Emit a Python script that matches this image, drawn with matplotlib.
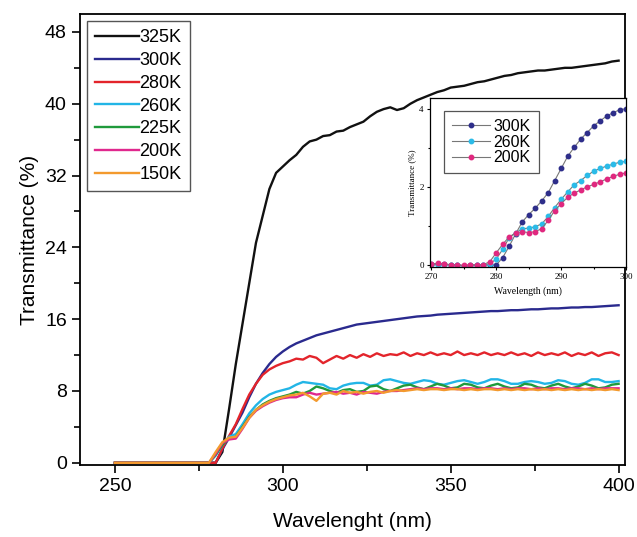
import numpy as np
import matplotlib

matplotlib.use("Agg")
import matplotlib.pyplot as plt

plt.rcParams["font.family"] = ["Liberation Sans", "DejaVu Sans"]

# main spectra, sampled every 2 nm from 250 to 400 nm
wavelength = np.arange(250, 401, 2)
flat_250_278 = [0.0, 0.0, 0.0, 0.0, 0.0, 0.0, 0.0, 0.0, 0.0, 0.0, 0.0, 0.0, 0.0, 0.0, 0.0]

# values from 280 to 400 nm
t_325 = [0.0, 1.2, 6.0, 11.0, 15.5, 20.0, 24.5, 27.5, 30.5, 32.3, 33.0,
         33.7, 34.3, 35.2, 35.8, 36.0, 36.4, 36.5, 36.9, 37.0, 37.4,
         37.7, 38.0, 38.6, 39.1, 39.4, 39.6, 39.3, 39.5, 40.0, 40.4,
         40.7, 41.0, 41.3, 41.5, 41.8, 41.9, 42.0, 42.2, 42.4, 42.5,
         42.7, 42.9, 43.1, 43.2, 43.4, 43.5, 43.6, 43.7, 43.7, 43.8,
         43.9, 44.0, 44.0, 44.1, 44.2, 44.3, 44.4, 44.5, 44.7, 44.8]
t_300 = [0.0, 1.5, 2.8, 4.2, 5.6, 7.3, 8.8, 10.0, 11.0, 11.8, 12.4,
         12.9, 13.3, 13.6, 13.9, 14.2, 14.4, 14.6, 14.8, 15.0, 15.2,
         15.4, 15.5, 15.6, 15.7, 15.8, 15.9, 16.0, 16.1, 16.2, 16.3,
         16.35, 16.4, 16.5, 16.55, 16.6, 16.65, 16.7, 16.75, 16.8, 16.85,
         16.9, 16.9, 16.95, 17.0, 17.0, 17.05, 17.1, 17.1, 17.15, 17.2,
         17.2, 17.25, 17.3, 17.3, 17.35, 17.35, 17.4, 17.45, 17.5, 17.55]
t_280 = [0.0, 1.6, 3.0, 4.3, 6.0, 7.6, 8.8, 9.8, 10.4, 10.8, 11.1,
         11.3, 11.6, 11.5, 11.9, 11.7, 11.1, 11.5, 11.9, 11.6, 12.0,
         11.7, 12.1, 11.8, 12.2, 11.9, 12.1, 12.0, 12.3, 11.9, 12.2,
         12.0, 12.3, 12.0, 12.2, 12.0, 12.4, 12.0, 12.2, 12.0, 12.3,
         12.0, 12.2, 12.0, 12.3, 12.0, 12.2, 11.9, 12.3, 12.0, 12.2,
         12.0, 12.3, 11.9, 12.2, 12.0, 12.3, 11.9, 12.2, 12.3, 12.0]
t_260 = [0.8, 2.0, 2.9, 3.2, 4.3, 5.5, 6.4, 7.1, 7.6, 7.9, 8.1,
         8.3, 8.7, 9.0, 8.9, 8.8, 8.7, 8.3, 8.2, 8.6, 8.8,
         8.9, 8.9, 8.6, 8.7, 9.2, 9.3, 9.1, 8.9, 8.8, 9.0,
         9.2, 9.1, 8.8, 8.7, 8.9, 9.1, 9.2, 9.0, 8.8, 9.0,
         9.3, 9.3, 9.1, 8.8, 8.8, 9.0, 9.1, 9.0, 8.8, 8.9,
         9.2, 9.1, 8.8, 8.7, 8.9, 9.3, 9.3, 9.0, 9.0, 9.1]
t_225 = [0.9, 2.0, 2.7, 2.9, 4.0, 5.1, 5.9, 6.5, 6.9, 7.2, 7.4,
         7.6, 7.9, 7.7, 8.0, 8.5, 8.3, 8.0, 7.8, 8.1, 8.2,
         7.9, 8.0, 8.5, 8.6, 8.2, 8.0, 8.3, 8.6, 8.7, 8.4,
         8.2, 8.5, 8.8, 8.6, 8.3, 8.4, 8.8, 8.7, 8.4, 8.3,
         8.6, 8.8, 8.5, 8.3, 8.4, 8.8, 8.7, 8.4, 8.3, 8.6,
         8.8, 8.5, 8.3, 8.5, 8.8, 8.6, 8.3, 8.4, 8.7, 8.8]
t_200 = [1.0, 2.2, 2.6, 2.7, 3.8, 5.0, 5.8, 6.3, 6.7, 7.0, 7.2,
         7.3, 7.3, 7.6, 7.8, 7.6, 7.7, 7.8, 7.9, 7.7, 7.8,
         7.6, 7.9, 7.8, 7.7, 7.9, 8.0, 8.0, 8.1, 8.2, 8.3,
         8.2, 8.3, 8.3, 8.2, 8.3, 8.2, 8.3, 8.3, 8.2, 8.3,
         8.3, 8.2, 8.3, 8.2, 8.3, 8.3, 8.2, 8.3, 8.2, 8.3,
         8.3, 8.2, 8.3, 8.3, 8.2, 8.3, 8.2, 8.3, 8.3, 8.3]
t_150 = [1.2, 2.3, 2.8, 2.9, 3.9, 5.0, 5.9, 6.4, 6.8, 7.1, 7.3,
         7.5, 7.6, 7.8, 7.4, 6.9, 7.7, 7.8, 7.6, 8.0, 7.8,
         7.9, 7.7, 7.9, 8.0, 7.8, 8.0, 8.1, 8.0, 8.1, 8.2,
         8.1, 8.2, 8.2, 8.1, 8.2, 8.2, 8.1, 8.2, 8.1, 8.2,
         8.2, 8.1, 8.2, 8.1, 8.2, 8.1, 8.2, 8.1, 8.2, 8.1,
         8.2, 8.1, 8.2, 8.1, 8.2, 8.1, 8.2, 8.1, 8.2, 8.1]

labels = ["325K", "300K", "280K", "260K", "225K", "200K", "150K"]
colors = ["#111111", "#2a2a8e", "#e3242b", "#22b5e6", "#1f9a3c", "#e0288e", "#f39a2e"]
series = [t_325, t_300, t_280, t_260, t_225, t_200, t_150]

# inset: 270-300 nm every 1 nm
inset_wl = np.arange(270, 301, 1)
inset_labels = ["300K", "260K", "200K"]
inset_colors = ["#2e2e8a", "#2bbbe8", "#e0287f"]
i_300 = [0.02, 0.03, 0.02, 0.0, 0.0, -0.02, 0.0, 0.0, 0.0, 0.0, 0.0,
         0.19, 0.48, 0.80, 1.10, 1.29, 1.45, 1.64, 1.85, 2.16, 2.47,
         2.78, 3.01, 3.22, 3.39, 3.56, 3.69, 3.81, 3.90, 3.97, 4.00]
i_260 = [0.0, 0.01, 0.0, 0.0, -0.01, -0.02, -0.02, 0.0, 0.0, 0.03, 0.15,
         0.40, 0.70, 0.82, 0.93, 0.94, 0.98, 1.05, 1.24, 1.47, 1.68,
         1.87, 2.05, 2.16, 2.29, 2.40, 2.47, 2.53, 2.58, 2.63, 2.65]
i_200 = [0.03, 0.04, 0.02, 0.01, 0.0, -0.01, 0.0, 0.0, 0.01, 0.08, 0.31,
         0.53, 0.72, 0.82, 0.85, 0.83, 0.85, 0.93, 1.14, 1.39, 1.57,
         1.73, 1.84, 1.92, 2.00, 2.06, 2.13, 2.20, 2.27, 2.32, 2.36]
inset_series = [i_300, i_260, i_200]

fig = plt.figure(figsize=(6.37, 5.37), dpi=100)
ax = fig.add_axes([0.1256, 0.134, 0.855, 0.84])

for lab, col, vals in zip(labels, colors, series):
    ax.plot(wavelength, flat_250_278 + vals, color=col, lw=1.7, label=lab)

ax.set_xlim(239.6, 401.8)
ax.set_ylim(-0.25, 50)
ax.set_xticks([250, 300, 350, 400])
ax.set_xticks([275, 325, 375], minor=True)
ax.set_yticks([0, 8, 16, 24, 32, 40, 48])
ax.set_yticks([4, 12, 20, 28, 36, 44], minor=True)
ax.tick_params(which="major", length=6, width=1.2, labelsize=14, direction="out")
ax.tick_params(which="minor", length=4, width=1.2, direction="out")
for sp in ax.spines.values():
    sp.set_linewidth(1.3)
ax.set_xlabel("Wavelenght (nm)", fontsize=15, labelpad=12)
ax.set_ylabel("Transmittance (%)", fontsize=15, labelpad=4)

leg = ax.legend(loc="upper left", fontsize=13, handlelength=2.4, handletextpad=0.05,
                labelspacing=0.32, borderpad=0.45, borderaxespad=0.4, fancybox=False,
                framealpha=1)
leg.get_frame().set_edgecolor("#555555")
leg.get_frame().set_linewidth(1.0)

# inset
ins = fig.add_axes([0.675, 0.503, 0.308, 0.315])
for lab, col, vals in zip(inset_labels, inset_colors, inset_series):
    ins.plot(inset_wl, vals, color="#777777", lw=0.8, marker="o", ms=3.2,
             mfc=col, mec=col, label=lab)
ins.set_xlim(269.8, 300)
ins.set_ylim(-0.05, 4.28)
ins.set_xticks([270, 280, 290, 300])
ins.set_xticks([275, 285, 295], minor=True)
ins.set_yticks([0, 2, 4])
ins.set_yticks([1, 3], minor=True)
for t in ins.get_xticklabels() + ins.get_yticklabels():
    t.set_family(["Liberation Serif", "DejaVu Serif"])
ins.tick_params(which="major", length=2.5, width=0.8, labelsize=6.5, pad=2)
ins.tick_params(which="minor", length=1.5, width=0.8)
for sp in ins.spines.values():
    sp.set_linewidth(0.9)
ins.set_xlabel("Wavelength (nm)", fontsize=7, family=["Liberation Serif", "DejaVu Serif"], labelpad=4)
ins.set_ylabel("Transmittance (%)", fontsize=6.5, family=["Liberation Serif", "DejaVu Serif"], labelpad=2)
ileg = ins.legend(loc="upper left", fontsize=11.5, handlelength=2.4, handletextpad=0.2,
                  labelspacing=0.05, borderpad=0.5, fancybox=False, framealpha=1,
                  bbox_to_anchor=(0.03, 0.97))
ileg.get_frame().set_edgecolor("#555555")
ileg.get_frame().set_linewidth(0.9)

fig.savefig("out.png", dpi=100)
plt.close(fig)
